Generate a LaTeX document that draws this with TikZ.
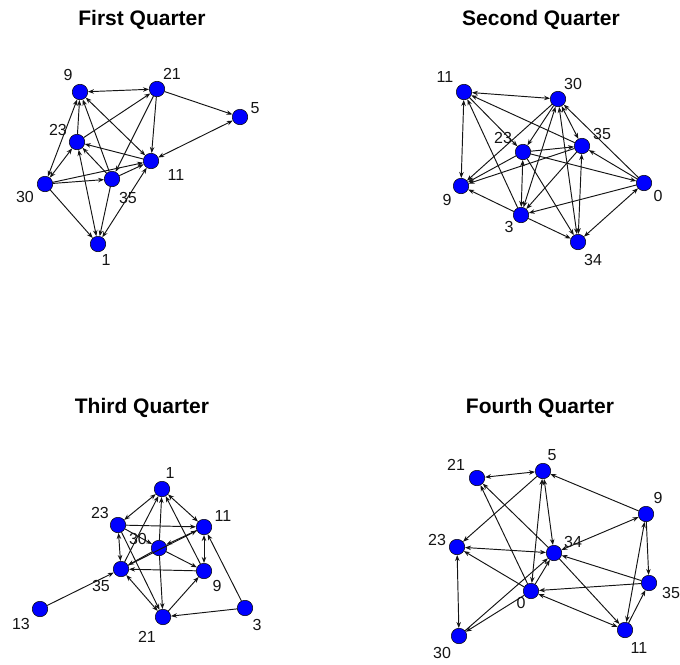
\documentclass[tikz,border=0pt]{standalone}
\usepackage{fontspec}
\setmainfont{Liberation Sans}
\usetikzlibrary{arrows.meta}
\definecolor{nodeblue}{RGB}{0,0,255}
\definecolor{ink}{RGB}{20,20,20}
\tikzset{
  vx/.style={circle,draw=black,line width=0.5pt,fill=nodeblue,minimum size=15.5pt,inner sep=0pt},
  lbl/.style={font=\fontsize{16}{16}\selectfont,text=ink,inner sep=0pt},
  ttl/.style={font=\fontsize{21}{21}\selectfont\bfseries,inner sep=0pt},
  arc/.style={-{Stealth[length=6pt,width=4.5pt]},draw=ink,line width=0.95pt},
  biarc/.style={{Stealth[length=6pt,width=4.5pt]}-{Stealth[length=6pt,width=4.5pt]},draw=ink,line width=0.95pt},
}

\begin{document}
\begin{tikzpicture}[x=1pt,y=-1pt]
  \useasboundingbox (0,0) rectangle (680,664);

  % first quarter
  \node[ttl] (t1) at (142,20) {First Quarter};
  \foreach \n/\x/\y/\lx/\ly in {9/80/92/68/75, 21/157/89/172/74, 5/240/117/255/108,
      23/77/142/58/130, 11/151/161/176/175, 30/45/184/25/197, 35/112/179/128/198, 1/98/244/106/260}{
    \node[vx] (a\n) at (\x,\y) {};
    \node[lbl] (a\n-l) at (\lx,\ly) {\n};
  }
  \foreach \s/\t in {21/5, 21/11, 23/21, 21/35, 23/9, 35/9, 11/23, 35/23, 30/35,
      30/11, 35/11, 30/1, 35/1}
    \draw[arc] (a\s) -- (a\t);
  \foreach \s/\t in {9/21, 5/11, 9/11, 9/30, 23/30, 1/23, 1/11}
    \draw[biarc] (a\s) -- (a\t);

  % second quarter
  \node[ttl] (t2) at (541,20) {Second Quarter};
  \foreach \n/\x/\y/\lx/\ly in {11/464/92/445/77, 30/558/99/573/84, 23/523/152/503/138,
      35/582/146/602/134, 0/644/183/658/196, 9/461/186/447/200, 3/521/215/509/227, 34/578/242/593/260}{
    \node[vx] (b\n) at (\x,\y) {};
    \node[lbl] (b\n-l) at (\lx,\ly) {\n};
  }
  \foreach \s/\t in {3/11, 11/23, 35/11, 30/9, 30/23, 0/30, 23/9, 23/35, 23/0, 23/34,
      35/9, 35/3, 0/35, 0/3, 3/9, 3/34}
    \draw[arc] (b\s) -- (b\t);
  \foreach \s/\t in {11/30, 11/9, 30/35, 30/3, 30/34, 23/3, 35/34, 0/34}
    \draw[biarc] (b\s) -- (b\t);

  % third quarter
  \node[ttl] (t3) at (142,408) {Third Quarter};
  \foreach \n/\x/\y/\lx/\ly in {1/162/489/170/473, 23/118/525/100/513, 11/204/527/223/516,
      30/159/548/138/539, 35/121/569/101/586, 9/204/571/217/586, 21/163/617/147/637,
      3/245/608/257/625, 13/40/609/21/624}{
    \node[vx] (c\n) at (\x,\y) {};
    \node[lbl] (c\n-l) at (\lx,\ly) {\n};
  }
  \foreach \s/\t in {30/1, 35/1, 9/1, 23/11, 23/30, 23/21, 30/35, 30/9, 30/21, 9/35,
      21/9, 3/11, 3/21, 13/35, 35/11, 11/30}
    \draw[arc] (c\s) -- (c\t);
  \foreach \s/\t in {1/23, 1/11, 23/35, 11/9, 35/21}
    \draw[biarc] (c\s) -- (c\t);

  % fourth quarter
  \node[ttl] (t4) at (540,408) {Fourth Quarter};
  \foreach \n/\x/\y/\lx/\ly in {5/543/471/552/455, 21/477/478/456/465, 9/646/514/658/498,
      23/457/547/437/540, 34/554/553/573/542, 35/649/583/671/593, 0/531/591/521/603,
      30/459/636/442/653, 11/625/630/639/648}{
    \node[vx] (d\n) at (\x,\y) {};
    \node[lbl] (d\n-l) at (\lx,\ly) {\n};
  }
  \foreach \s/\t in {5/23, 9/5, 34/21, 0/21, 9/35, 0/23, 35/34, 34/11, 0/34, 30/34,
      0/30, 35/0, 11/35}
    \draw[arc] (d\s) -- (d\t);
  \foreach \s/\t in {21/5, 5/34, 5/0, 9/34, 9/11, 23/34, 23/30, 0/11}
    \draw[biarc] (d\s) -- (d\t);
\end{tikzpicture}
\end{document}
